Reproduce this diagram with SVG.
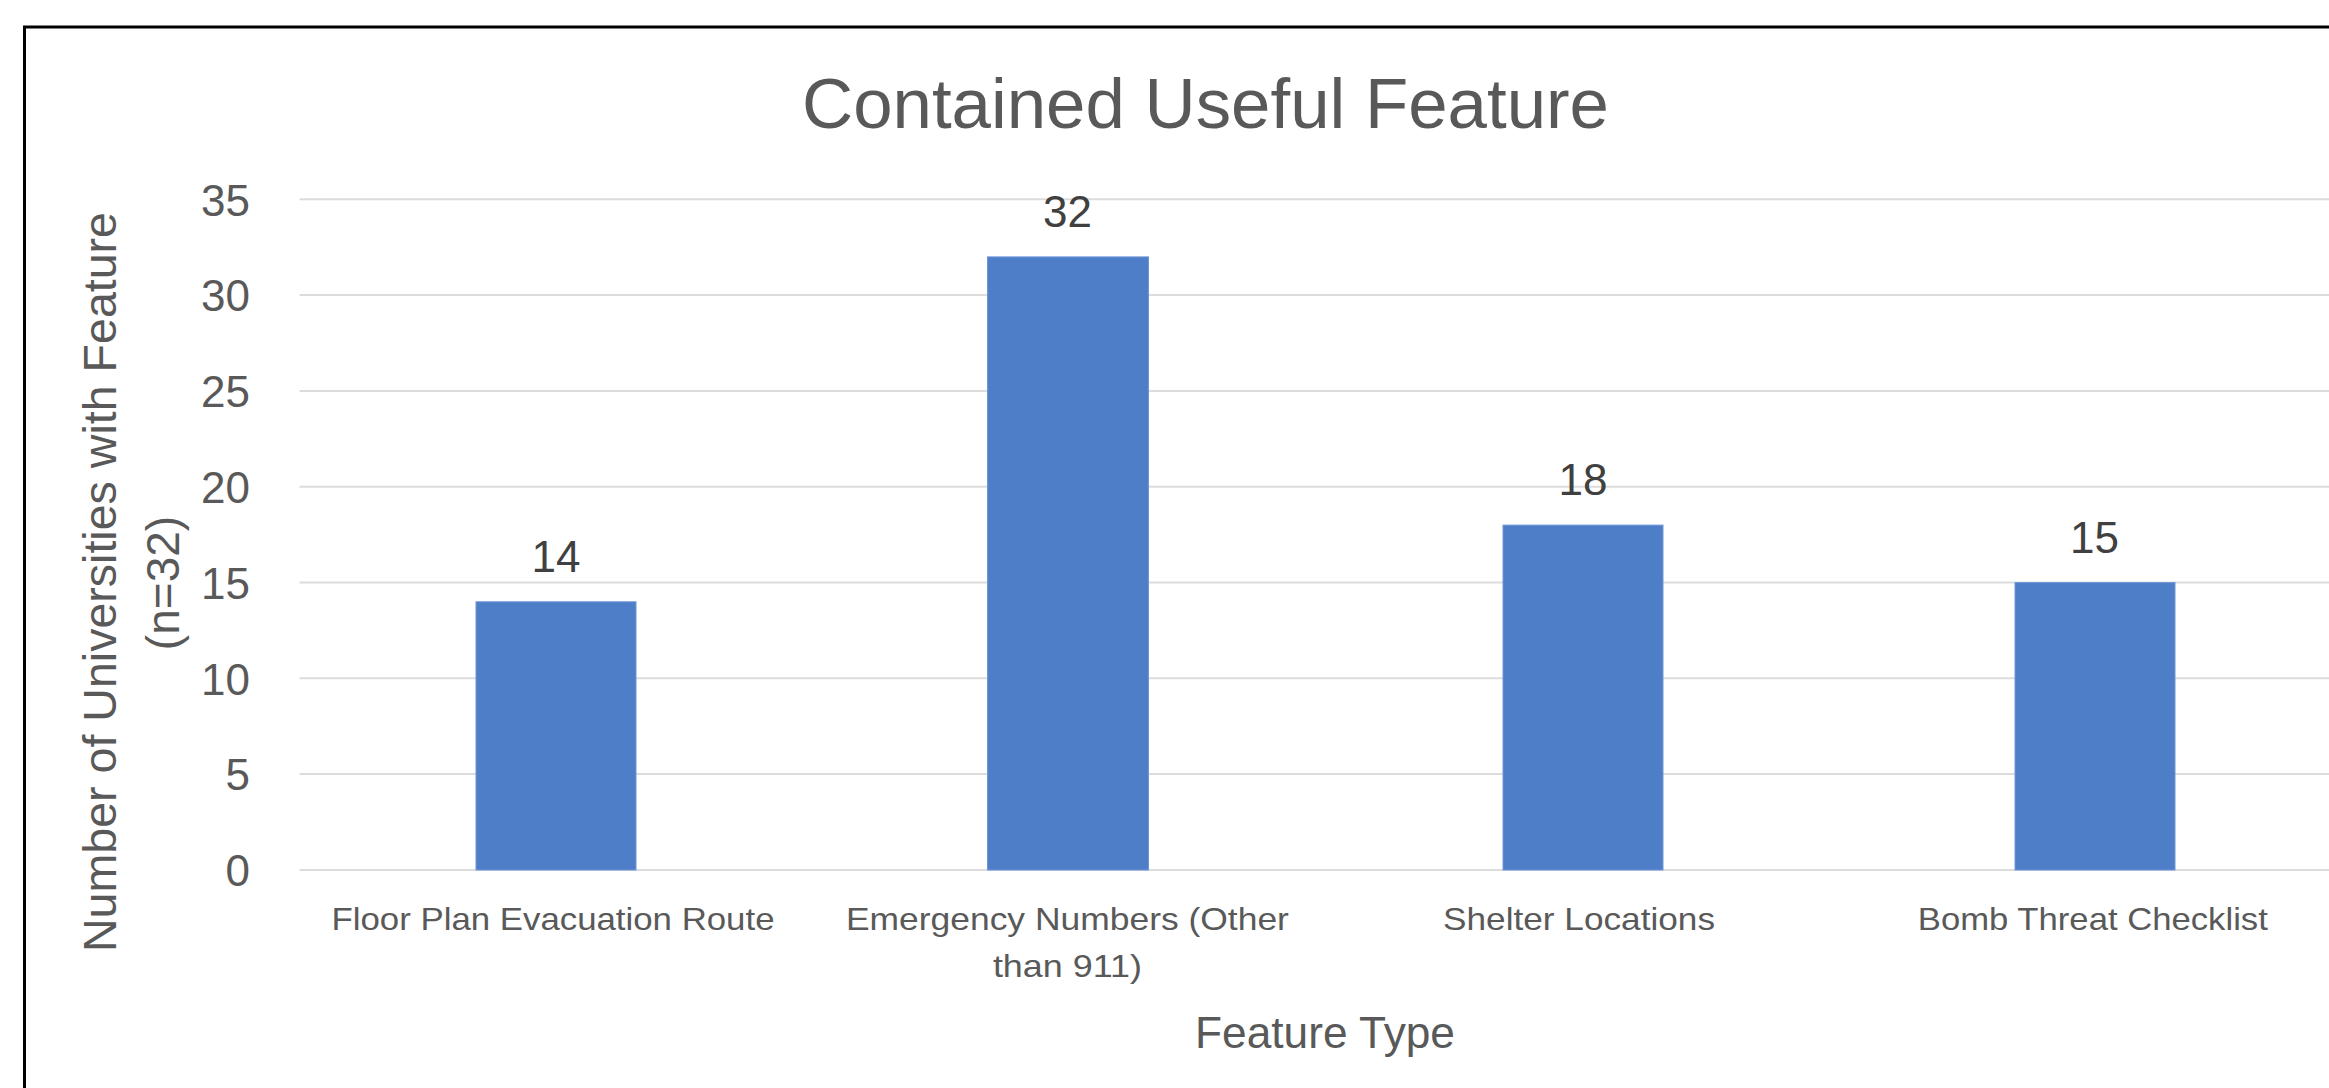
<svg xmlns="http://www.w3.org/2000/svg" width="2329" height="1088" viewBox="0 0 2329 1088">
<style>
  text { font-family: "Liberation Sans", Arial, sans-serif; }
  .grid { stroke: #dcdcdc; stroke-width: 2; fill: none; }
  .tick { font-size: 44px; fill: #595959; text-anchor: end; }
  .val { font-size: 44px; fill: #404040; text-anchor: middle; }
  .cat { font-size: 32px; fill: #595959; text-anchor: middle; }
  .bar { fill: #4e7ec8; stroke: #6f96d8; stroke-width: 1; }
  .axt { font-size: 46px; fill: #595959; text-anchor: middle; }
</style>
<rect x="0" y="0" width="2329" height="1088" fill="#ffffff"/>
<path d="M24.5 1088 V27 H2329" fill="none" stroke="#000000" stroke-width="3"/>
<g id="title">
  <text x="1205.5" y="128" font-size="70" fill="#595959" text-anchor="middle" textLength="807" lengthAdjust="spacingAndGlyphs">Contained Useful Feature</text>
</g>
<g id="gridlines">
  <line class="grid" x1="299.5" y1="199.3" x2="2329" y2="199.3"/>
  <line class="grid" x1="299.5" y1="295.1" x2="2329" y2="295.1"/>
  <line class="grid" x1="299.5" y1="390.9" x2="2329" y2="390.9"/>
  <line class="grid" x1="299.5" y1="486.7" x2="2329" y2="486.7"/>
  <line class="grid" x1="299.5" y1="582.5" x2="2329" y2="582.5"/>
  <line class="grid" x1="299.5" y1="678.3" x2="2329" y2="678.3"/>
  <line class="grid" x1="299.5" y1="774.1" x2="2329" y2="774.1"/>
  <line class="grid" x1="299.5" y1="870" x2="2329" y2="870"/>
</g>
<g id="y-axis">
  <text class="tick" x="250" y="215.5">35</text>
  <text class="tick" x="250" y="311.3">30</text>
  <text class="tick" x="250" y="407.1">25</text>
  <text class="tick" x="250" y="502.9">20</text>
  <text class="tick" x="250" y="598.7">15</text>
  <text class="tick" x="250" y="694.5">10</text>
  <text class="tick" x="250" y="790.3">5</text>
  <text class="tick" x="250" y="886">0</text>
</g>
<g id="y-axis-title">
  <text class="axt" transform="translate(116,582) rotate(-90)" x="0" y="0" textLength="740" lengthAdjust="spacingAndGlyphs">Number of Universities with Feature</text>
  <text class="axt" transform="translate(179,583) rotate(-90)" x="0" y="0">(n=32)</text>
</g>
<g id="bar-floor-plan">
  <rect class="bar" x="476" y="601.8" width="160" height="268.2"/>
  <text class="val" x="556" y="572">14</text>
  <text class="cat" x="553" y="930" textLength="443" lengthAdjust="spacingAndGlyphs">Floor Plan Evacuation Route</text>
</g>
<g id="bar-emergency">
  <rect class="bar" x="987.5" y="256.9" width="161" height="613.1"/>
  <text class="val" x="1067.5" y="227">32</text>
  <text class="cat" x="1067.4" y="930" textLength="443" lengthAdjust="spacingAndGlyphs">Emergency Numbers (Other</text>
  <text class="cat" x="1067.4" y="976.7" textLength="149" lengthAdjust="spacingAndGlyphs">than 911)</text>
</g>
<g id="bar-shelter">
  <rect class="bar" x="1503" y="525.1" width="160" height="344.9"/>
  <text class="val" x="1583" y="495">18</text>
  <text class="cat" x="1579" y="930" textLength="272" lengthAdjust="spacingAndGlyphs">Shelter Locations</text>
</g>
<g id="bar-bomb">
  <rect class="bar" x="2015" y="582.6" width="160" height="287.4"/>
  <text class="val" x="2094.5" y="553">15</text>
  <text class="cat" x="2092.8" y="930" textLength="350" lengthAdjust="spacingAndGlyphs">Bomb Threat Checklist</text>
</g>
<g id="x-axis-title">
  <text class="axt" x="1325" y="1048" style="font-size:44px" textLength="260" lengthAdjust="spacingAndGlyphs">Feature Type</text>
</g>
</svg>
